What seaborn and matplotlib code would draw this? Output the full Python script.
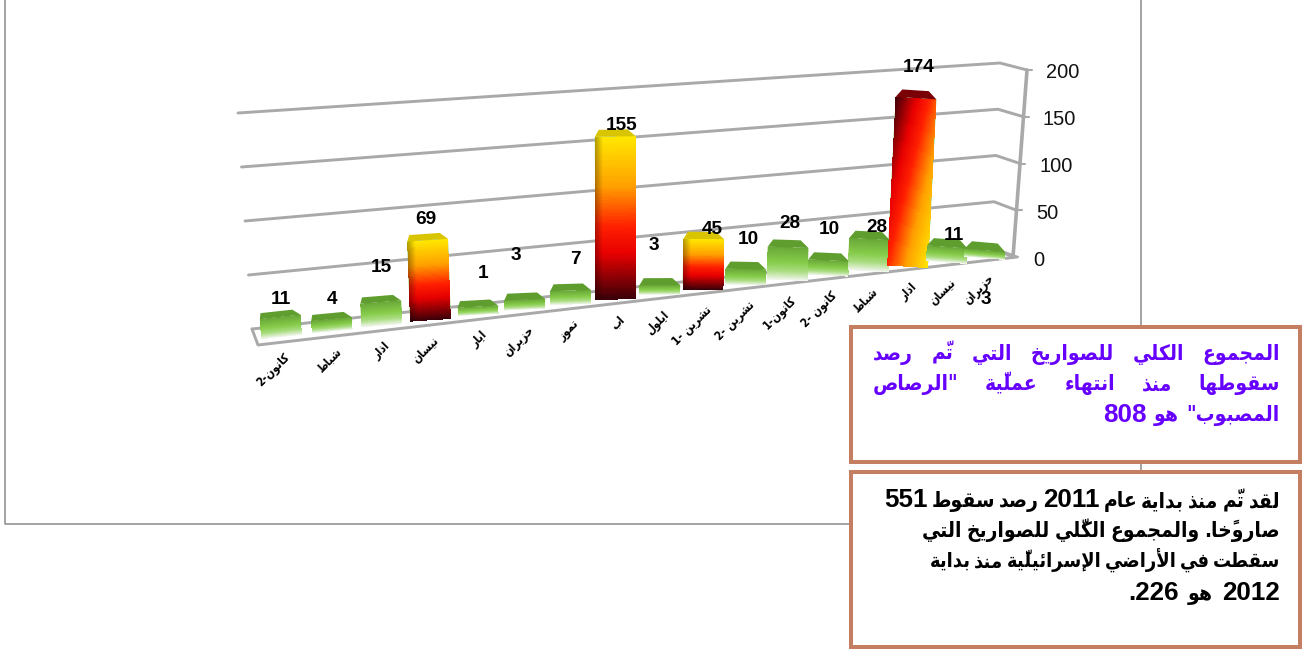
import numpy as np
import pandas as pd
import matplotlib
matplotlib.use("Agg")
import matplotlib.pyplot as plt
import seaborn as sns
from matplotlib.colors import LinearSegmentedColormap
from matplotlib.patches import Polygon, Rectangle
from matplotlib.transforms import Affine2D

months = ["كانون-2", "شباط", "اذار", "نيسان", "ايار", "حزيران", "تموز", "اب", "ايلول",
          "تشرين -1", "تشرين -2", "كانون-1", "كانون -2", "شباط", "اذار", "نيسان", "حزيران"]
rockets = [11, 4, 15, 69, 1, 3, 7, 155, 3, 45, 10, 28, 10, 28, 174, 11, 3]
y_ticks = [0, 50, 100, 150, 200]

box_top_lines = ["المجموع الكلي للصواريخ التي تمّ رصد",
                 "سقوطها منذ انتهاء عمليّة \"الرصاص",
                 "المصبوب\" هو 808"]
box_bottom_lines = ["لقد تمّ منذ بداية عام 2011 رصد سقوط 551",
                    "صاروخًا. والمجموع الكلّي للصواريخ التي",
                    "سقطت في الأراضي الإسرائيليّة منذ بداية",
                    "2012 هو 226."]

# pixel spots of the value labels, they sit oddly in the original
label_spots = [(281, 299), (332, 299), (381, 268), (426, 220), (483, 273), (516, 255),
               (575, 260), (622, 126), (654, 245), (712, 229), (748, 239), (790, 224),
               (829, 230), (877, 228), (919, 68), (954, 235), (986, 299)]

# --- minimal arabic shaping, matplotlib does none of it ---
FORMS = {"ء": (0xFE80,)}
for letters, start, n in [("آأؤإ", 0xFE81, 2), ("ئ", 0xFE89, 4), ("ا", 0xFE8D, 2), ("ب", 0xFE8F, 4),
                          ("ة", 0xFE93, 2), ("تثجحخ", 0xFE95, 4), ("دذرز", 0xFEA9, 2),
                          ("سشصضطظعغفقكلمنه", 0xFEB1, 4), ("و", 0xFEED, 2), ("ى", 0xFEEF, 2), ("ي", 0xFEF1, 4)]:
    for ch in letters:
        FORMS[ch] = tuple(start + k for k in range(n))
        start += n
LAM_ALEF = {"آ": 0xFEF5, "أ": 0xFEF7, "إ": 0xFEF9, "ا": 0xFEFB}
MARKS = "\u064b\u064e\u0650\u0651"


def visual(word):
    # group letters with their marks and digit runs with each other
    groups = []
    for ch in word:
        if ch in MARKS and groups:
            groups[-1][1] += ch
        elif ch.isdigit() and groups and groups[-1][0].isdigit():
            groups[-1][0] += ch
        else:
            groups.append([ch, ""])
    out = []
    i = 0
    while i < len(groups):
        ch, marks = groups[i]
        if ch not in FORMS:
            out.append(ch + marks)
            i += 1
            continue
        joined = i > 0 and len(FORMS.get(groups[i - 1][0], ())) == 4
        following = groups[i + 1][0] if i + 1 < len(groups) else ""
        if ch == "ل" and following in LAM_ALEF:
            out.append(chr(LAM_ALEF[following] + int(joined)) + marks + groups[i + 1][1])
            i += 2
            continue
        forms = FORMS[ch]
        if len(forms) == 1:
            out.append(chr(forms[0]) + marks)
        else:
            opens = len(forms) == 4 and following in FORMS
            idx = (1 if joined else 0) if not opens else (3 if joined else 2)
            out.append(chr(forms[idx]) + marks)
        i += 1
    return "".join(reversed(out))


sns.set_theme(style="white")
plt.rcParams["font.family"] = ["Liberation Sans", "DejaVu Sans"]

fig = plt.figure(figsize=(13.03, 6.5), dpi=100)
ax = fig.add_axes([0, 0, 1, 1])

df = pd.DataFrame({"slot": range(len(rockets)), "rockets": rockets})
sns.barplot(data=df, x="slot", y="rockets", width=0.8, color="#7ab83c", saturation=1, ax=ax)

ax.set_xlim(0, 1303)
ax.set_ylim(650, 0)
ax.set_axis_off()

GRID = "#a9a9a9"


def wall_left(v):
    return 252 - 0.07 * v, 329 - 1.08 * v


def wall_back(v):
    return 992 + 0.04 * v, 248 - 0.925 * v


def wall_front(v):
    return 1013 + 0.07 * v, 257 - 0.935 * v


def line(points, lw=2.1, color=GRID, zorder=1):
    xs, ys = zip(*points)
    ax.plot(xs, ys, color=color, lw=lw, zorder=zorder, solid_capstyle="round")


# outer chart frame
line([(4.5, 0), (4.5, 524), (1141, 524), (1141, 0)], lw=1.1, color="#8a8a8a", zorder=0)

for v in y_ticks:
    line([wall_left(v), wall_back(v), wall_front(v)])
    x, y = wall_front(v)
    line([(x - 1, y), (x + 5, y)], lw=1.5)
    ax.text(1033 + 0.066 * v, 260 - 0.935 * v, str(v), fontsize=14.4, color="#111111",
            ha="left", va="center", family="Liberation Sans", zorder=6)
line([wall_front(0), wall_front(200)], lw=2.6)
line([wall_left(0), (258, 345), (1017, 257), wall_back(0)])

hot = LinearSegmentedColormap.from_list("hot_bar", [(0, "#3d0008"), (0.28, "#e80000"), (0.45, "#ff2000"),
                                                    (0.7, "#ffa000"), (1, "#ffe600")])
lime = LinearSegmentedColormap.from_list("lime_bar", [(0, "#f2f6ee"), (0.28, "#a9dc80"), (0.55, "#86cc4a"),
                                                      (1, "#6aa838")])

KX = 51.0
for i, (bar, value) in enumerate(zip(ax.patches, rockets)):
    # bent projection: spacing shrinks to the right, bar width does not
    cx = (54.2 * i + 281) / (1 + 0.01038 * i)
    t = (cx - 281) / 704
    s = 1.09 - 0.17 * t
    pad = 8 - 3 * t
    zero_y = 337 - 0.112 * (cx - 281) - pad
    slope = -0.11 + 0.14 * (cx - 281) / 500
    lean = 0.07 * (cx - 630) / 390
    tr = Affine2D(np.array([[KX, lean * s, cx - KX * i],
                            [slope * KX, -s, zero_y - slope * KX * i],
                            [0, 0, 1]])) + ax.transData

    x0, x1 = bar.get_x(), bar.get_x() + bar.get_width()
    top = bar.get_height()
    bar.set_transform(tr)
    bar.set_edgecolor("none")
    bar.set_zorder(3)

    # gradient face
    xs = np.linspace(x0, x1, 41)
    ys = np.linspace(-pad / s, top, 71)
    xf, yf = np.meshgrid((xs[:-1] + xs[1:] - 2 * x0) / (2 * (x1 - x0)), np.linspace(0, 1, 70))
    if i == 14:
        rgb = hot(0.55 * xf + 0.45 * (1 - yf))[..., :3]
    elif value > 30:
        rgb = hot(yf)[..., :3] * (0.68 + 0.32 * np.clip(xf / 0.2, 0, 1))[..., None]
    else:
        rgb = lime(yf)[..., :3]
    ax.pcolormesh(xs, ys, rgb, transform=tr, zorder=3.1, antialiased=False, rasterized=True)

    # top of the block, narrower towards the back
    back = top + (6 + 2 * t) / s
    top_color = "#7a0008" if i == 14 else ("#d8c400" if value > 30 else "#5f9e2e")
    ax.add_patch(Polygon([(x0, top), (x1, top), (x1 - 8 / KX, back), (x0 + (1 + 6 * t) / KX, back)],
                         closed=True, fc=top_color, ec="none", transform=tr, zorder=3.2))

    # month label, rotated under the floor
    ax.text(cx + 7, zero_y + pad + 18, visual(months[i]), rotation=45, rotation_mode="anchor",
            ha="right", va="center", fontsize=8.4, fontweight="bold", stretch="condensed",
            color="black", family="DejaVu Sans", zorder=5)

for value, (x, y) in zip(rockets, label_spots):
    ax.text(x, y, str(value), fontsize=13.7, fontweight="bold", color="black",
            ha="center", va="center", family="Liberation Sans", zorder=6)

# --- the two note boxes ---
for (y0, y1) in [(327, 462), (472, 647)]:
    ax.add_patch(Rectangle((851, y0), 449, y1 - y0, fc="white", ec="#c47f62", lw=2.9, zorder=7))

renderer = fig.canvas.get_renderer()


def draw_line(text, baseline, color, left=None, right=1280, gap=5, ar_size=15):
    items = []
    for word in text.split(" "):
        has_digit = any(c.isdigit() for c in word)
        items.append(ax.text(0, baseline, visual(word), color=color, fontweight="bold",
                             fontsize=18.7 if has_digit else ar_size,
                             stretch="normal" if has_digit else "condensed",
                             family="Liberation Sans" if has_digit else "DejaVu Sans",
                             ha="left", va="baseline", zorder=8))
    widths = [t.get_window_extent(renderer).width for t in items]
    if left is not None:
        gap = (right - left - sum(widths)) / (len(items) - 1)
    x = right
    for item, w in zip(items, widths):
        x -= w
        item.set_x(x)
        x -= gap


draw_line(box_top_lines[0], 360, "#6600ff", left=873)
draw_line(box_top_lines[1], 390, "#6600ff", left=873)
draw_line(box_top_lines[2], 421.5, "#6600ff", left=1103)
draw_line(box_bottom_lines[0], 507, "black", left=884)
draw_line(box_bottom_lines[1], 537, "black", left=922)
draw_line(box_bottom_lines[2], 567, "black", left=930, ar_size=14.4)
draw_line(box_bottom_lines[3], 600, "black", left=1128)

fig.savefig("out.png", dpi=100)
